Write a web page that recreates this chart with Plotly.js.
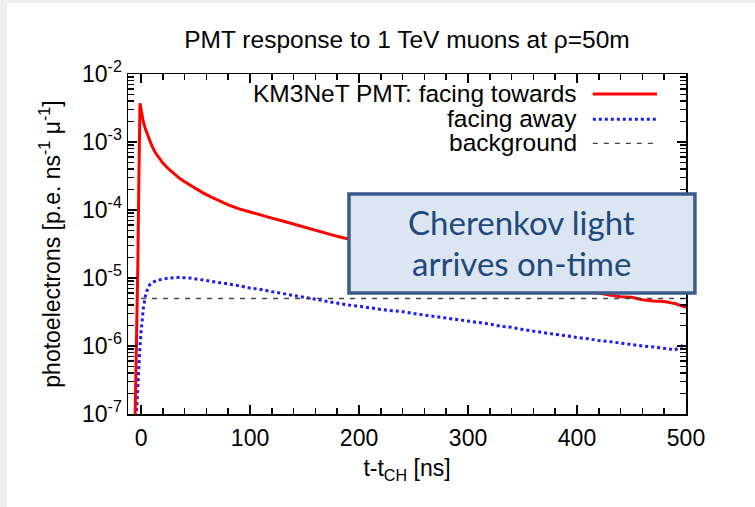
<!DOCTYPE html>
<html>
<head>
<meta charset="utf-8">
<script src="https://cdn.plot.ly/plotly-3.0.1.min.js"></script>
<style>
  html, body { margin: 0; padding: 0; background: #eeeeee; width: 755px; height: 507px; overflow: hidden; }
  #chart { position: absolute; left: 7px; top: 3px; width: 748px; height: 504px; background: #ffffff; }
</style>
</head>
<body>
<div id="chart"></div>
<script>
// ---- data ----
const seriesNames = ["KM3NeT PMT: facing towards", "facing away", "background"];

const towardsX = [-6, -5, -4, -3, -2, -1, 0, 1, 2, 4, 6, 8, 10, 13, 16, 20, 25, 30, 35, 40, 48, 56, 64, 72, 80, 90, 100,
  110, 120, 130, 140, 150, 160, 170, 180, 190, 200, 210, 220, 230, 240, 250, 260, 270, 280, 290, 300, 310, 320, 330,
  340, 350, 360, 370, 380, 390, 400, 410, 420, 430, 440, 450, 460, 470, 480, 490, 500];
const towardsY = [3e-8, 2e-7, 1.5e-6, 1.5e-5, 3e-4, 3.7e-3, 3.0e-3, 2.4e-3, 2.0e-3, 1.55e-3, 1.25e-3, 1.03e-3, 8.7e-4, 7.0e-4,
  5.9e-4, 4.9e-4, 4.05e-4, 3.4e-4, 2.95e-4, 2.6e-4, 2.15e-4, 1.82e-4, 1.56e-4, 1.35e-4, 1.19e-4, 1.04e-4, 9.3e-5,
  8.4e-5, 7.6e-5, 6.9e-5, 6.2e-5, 5.6e-5, 5.05e-5, 4.55e-5, 4.1e-5, 3.75e-5, 3.4e-5, 3.1e-5, 2.8e-5, 2.55e-5, 2.3e-5,
  2.1e-5, 1.92e-5, 1.78e-5, 1.64e-5, 1.52e-5, 1.42e-5, 1.32e-5, 1.23e-5, 1.15e-5, 1.07e-5, 1.0e-5, 9.3e-6, 8.7e-6,
  8.1e-6, 7.6e-6, 6.9e-6, 6.5e-6, 6.0e-6, 5.6e-6, 5.3e-6, 5.2e-6, 4.8e-6, 4.6e-6, 4.5e-6, 4.2e-6, 3.7e-6];

const awayX = [-5, -4, -3, -2, -1, 0, 1, 2, 4, 6, 8, 11, 15, 20, 26, 32, 38, 45, 52, 60, 70, 80, 90, 100, 110, 120, 130,
  140, 150, 160, 170, 180, 190, 200, 210, 220, 230, 240, 250, 260, 270, 280, 290, 300, 310, 320, 330, 340, 350, 360,
  370, 380, 390, 400, 410, 420, 430, 440, 450, 460, 470, 480, 490, 496, 500];
const awayY = [6e-8, 1.4e-7, 3e-7, 5.7e-7, 1.0e-6, 1.6e-6, 2.5e-6, 3.5e-6, 5.5e-6, 7.0e-6, 8.0e-6, 8.7e-6, 9.3e-6,
  9.7e-6, 1.0e-5, 1.02e-5, 1.02e-5, 1.0e-5, 9.6e-6, 9.2e-6, 8.7e-6, 8.2e-6, 7.7e-6, 7.1e-6, 6.8e-6, 6.3e-6, 5.9e-6,
  5.6e-6, 5.2e-6, 4.9e-6, 4.6e-6, 4.3e-6, 4.0e-6, 3.85e-6, 3.6e-6, 3.45e-6, 3.3e-6, 3.2e-6, 3.0e-6, 2.85e-6, 2.75e-6,
  2.55e-6, 2.45e-6, 2.35e-6, 2.2e-6, 2.1e-6, 1.95e-6, 1.88e-6, 1.75e-6, 1.65e-6, 1.58e-6, 1.48e-6, 1.42e-6, 1.33e-6,
  1.28e-6, 1.2e-6, 1.16e-6, 1.1e-6, 1.06e-6, 1.0e-6, 9.7e-7, 9.2e-7, 8.8e-7, 1.0e-6, 1.0e-6];

const backgroundX = [0, 500];
const backgroundY = [5e-6, 5e-6];

const yTickVals = [1e-7, 1e-6, 1e-5, 1e-4, 1e-3, 1e-2];
const yTickText = ["10<sup>-7</sup>", "10<sup>-6</sup>", "10<sup>-5</sup>", "10<sup>-4</sup>", "10<sup>-3</sup>", "10<sup>-2</sup>"];
const xTickVals = [0, 100, 200, 300, 400, 500];

const boxLines = ["Cherenkov light", "arrives on-time"];

// minor tick positions
const xMinor = [];
for (let v = -20; v <= 500; v += 20) if (v % 100 !== 0) xMinor.push(v);
const yMinor = [];
for (let e = -7; e < -2; e++) for (let m = 2; m <= 9; m++) yMinor.push(m * Math.pow(10, e));

// ---- styles ----
const FONT = "Liberation Sans, Arial, Helvetica, sans-serif";
const colors = ["#ff0000", "#1a1aff", "#444444"];
const dashes = ["solid", "dot", "5px,6px"];
const widths = [3, 3, 1.4];

const traces = [
  {x: backgroundX, y: backgroundY, name: seriesNames[2], type: "scatter", mode: "lines", xaxis: "x2", yaxis: "y2",
   line: {color: colors[2], width: widths[2], dash: dashes[2]}},
  {x: awayX, y: awayY, name: seriesNames[1], type: "scatter", mode: "lines",
   line: {color: colors[1], width: widths[1], dash: dashes[1]}},
  {x: towardsX, y: towardsY, name: seriesNames[0], type: "scatter", mode: "lines",
   line: {color: colors[0], width: widths[0], dash: dashes[0]}}
];

// manual gnuplot-style key: text right-aligned, sample to the right
const keyRowsY = [0.944, 0.870, 0.799];
const annotations = [];
const shapes = [];
seriesNames.forEach((n, i) => {
  annotations.push({xref: "paper", yref: "paper", x: 0.808, y: keyRowsY[i], xanchor: "right", yanchor: "middle",
    text: n, showarrow: false, font: {family: FONT, size: 24.5, color: "#000"}});
  shapes.push({type: "line", xref: "paper", yref: "paper", x0: 0.833, x1: 0.948, y0: keyRowsY[i] - 0.003, y1: keyRowsY[i] - 0.003,
    line: {color: colors[i], width: widths[i], dash: dashes[i]}});
});

// Cherenkov callout box
shapes.push({type: "rect", xref: "paper", yref: "paper", x0: 0.396, x1: 1.016, y0: 0.356, y1: 0.647,
  line: {color: "#3a5b8c", width: 3.5}, fillcolor: "#dce6f2", layer: "above"});
const boxLineY = [0.566, 0.443];
boxLines.forEach((t, i) => {
  annotations.push({xref: "paper", yref: "paper", x: 0.706, y: boxLineY[i], xanchor: "center", yanchor: "middle",
    text: t, showarrow: false, font: {family: "Lato, Open Sans, sans-serif", size: 33, color: "#1f497d"}});
});

const axisLine = {showline: true, linecolor: "#000", linewidth: 1.5, mirror: "ticks", showgrid: false, zeroline: false};

const layout = {
  width: 748, height: 504,
  margin: {l: 121, r: 69, t: 71, b: 93},
  paper_bgcolor: "#ffffff", plot_bgcolor: "#ffffff",
  showlegend: false,
  title: {text: "PMT response to 1 TeV muons at ρ=50m", x: 0.5, xref: "paper", xanchor: "center",
    y: 0.927, yref: "container", yanchor: "middle", font: {family: FONT, size: 24.5, color: "#000"}},
  xaxis: Object.assign({}, axisLine, {
    range: [-12, 500],
    ticks: "inside", ticklen: 9, tickwidth: 1.5, tickcolor: "#000",
    tickmode: "array", tickvals: xTickVals,
    tickfont: {family: FONT, size: 23, color: "#000"}, ticklabelstandoff: 3,
    title: {text: "t-t<sub>CH</sub> [ns]", font: {family: FONT, size: 23, color: "#000"}, standoff: 10}
  }),
  yaxis: Object.assign({}, axisLine, {
    type: "log", range: [-7, -2],
    ticks: "inside", ticklen: 9, tickwidth: 1.5, tickcolor: "#000",
    tickmode: "array", tickvals: yTickVals, ticktext: yTickText,
    tickfont: {family: FONT, size: 23, color: "#000"},
    title: {text: "photoelectrons [p.e. ns<sup>-1</sup> μ<sup>-1</sup>]", font: {family: FONT, size: 23, color: "#000"}, standoff: 15}
  }),
  // overlay axes carrying the minor ticks
  xaxis2: Object.assign({}, axisLine, {
    overlaying: "x", side: "bottom", range: [-12, 500],
    ticks: "inside", ticklen: 6, tickwidth: 1.6, tickcolor: "#000",
    tickmode: "array", tickvals: xMinor, showticklabels: false
  }),
  yaxis2: Object.assign({}, axisLine, {
    overlaying: "y", side: "left", type: "log", range: [-7, -2],
    ticks: "inside", ticklen: 6, tickwidth: 1.6, tickcolor: "#000",
    tickmode: "array", tickvals: yMinor, showticklabels: false
  }),
  annotations: annotations,
  shapes: shapes
};

Plotly.newPlot("chart", traces, layout, {displayModeBar: false, staticPlot: true});
</script>
</body>
</html>
